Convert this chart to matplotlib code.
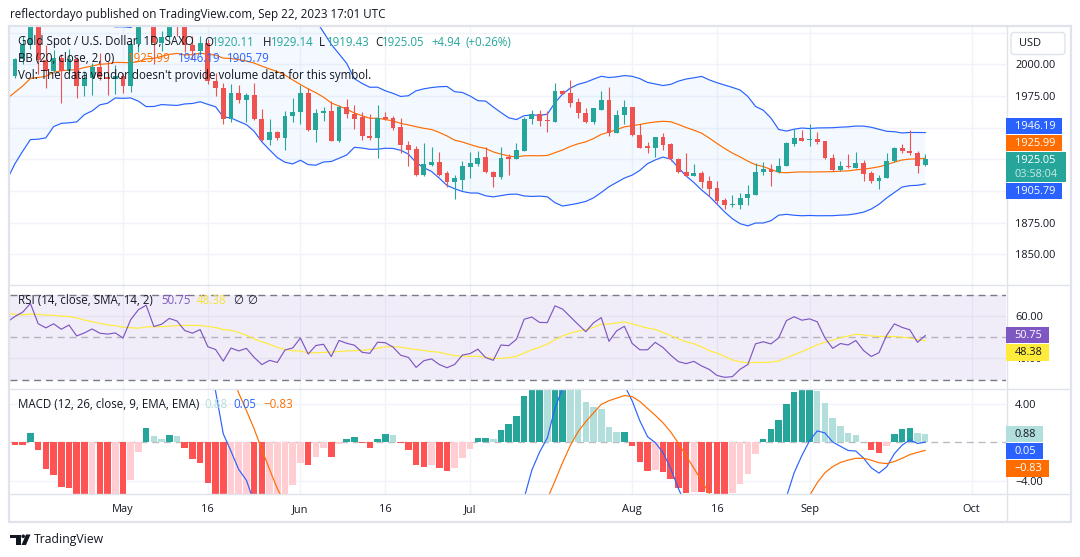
import numpy as np
import pandas as pd
import matplotlib
matplotlib.use('Agg')
import matplotlib.pyplot as plt
from matplotlib.patches import Rectangle, FancyBboxPatch, Polygon, Circle

plt.rcParams['font.family'] = ['Open Sans', 'DejaVu Sans']
plt.rcParams['lines.scale_dashes'] = False

# ---------------- data (XAUUSD daily, SAXO) ----------------
first_date = '2023-04-11'
opens = [1990.7, 2003.8, 2014.9, 2040.0, 2003.5, 1995.0, 2005.0, 1994.5, 2004.0, 1983.0,
         1989.5, 1997.5, 1990.0, 1988.5, 1990.5, 1982.5, 2016.0, 2039.0, 2050.5, 2016.5,
         2021.5, 2034.5, 2030.5, 2015.0, 2010.5, 2017.0, 1987.0, 1981.5, 1956.5, 1977.5,
         1971.5, 1975.5, 1957.0, 1940.5, 1946.5, 1942.0, 1959.5, 1962.5, 1977.5, 1948.0,
         1961.5, 1963.5, 1939.5, 1966.0, 1960.5, 1958.5, 1943.5, 1941.5, 1958.3, 1957.5,
         1950.5, 1936.5, 1932.8, 1913.0, 1920.4, 1923.0, 1913.8, 1907.0, 1908.6, 1919.1,
         1920.9, 1926.7, 1915.1, 1910.9, 1926.7, 1925.1, 1931.4, 1957.0, 1960.4, 1955.9,
         1954.3, 1979.3, 1977.5, 1970.1, 1961.7, 1954.3, 1964.3, 1972.2, 1945.9, 1959.6,
         1965.9, 1944.3, 1935.4, 1934.1, 1942.8, 1936.7, 1925.4, 1915.1, 1911.7, 1913.8,
         1907.8, 1902.0, 1892.5, 1888.6, 1888.8, 1894.1, 1897.2, 1914.9, 1917.5, 1914.9,
         1919.6, 1936.7, 1942.0, 1939.9, 1940.7, 1939.1, 1926.2, 1916.2, 1920.1, 1918.3,
         1922.2, 1913.8, 1907.8, 1910.1, 1923.3, 1933.6, 1931.4, 1930.1, 1920.11]
highs = [2005.0, 2022.0, 2048.7, 2048.0, 2015.0, 2011.0, 2008.0, 2012.0, 2006.0, 1995.0,
         2001.0, 2009.0, 2003.0, 1999.5, 1993.5, 2019.5, 2041.0, 2081.0, 2063.0, 2026.5,
         2037.5, 2048.0, 2041.0, 2022.0, 2022.0, 2020.0, 1993.0, 1985.5, 1984.5, 1984.0,
         1977.5, 1985.0, 1964.5, 1957.0, 1947.5, 1963.5, 1973.5, 1983.5, 1981.5, 1964.5,
         1966.5, 1971.0, 1967.5, 1973.0, 1967.5, 1962.0, 1960.5, 1968.0, 1962.0, 1959.0,
         1957.8, 1939.5, 1935.5, 1937.5, 1934.5, 1930.5, 1915.5, 1913.0, 1923.5, 1930.5,
         1931.5, 1934.5, 1915.5, 1934.5, 1928.8, 1938.0, 1958.5, 1963.8, 1963.8, 1963.0,
         1985.4, 1980.1, 1987.5, 1973.5, 1965.7, 1965.7, 1978.8, 1982.2, 1964.3, 1972.2,
         1966.2, 1952.5, 1938.6, 1942.8, 1946.0, 1938.0, 1926.2, 1930.1, 1920.9, 1915.7,
         1911.7, 1907.8, 1894.6, 1897.2, 1898.5, 1905.1, 1922.2, 1922.7, 1921.4, 1926.2,
         1938.6, 1948.6, 1947.8, 1953.0, 1946.5, 1939.6, 1928.8, 1923.6, 1929.3, 1930.6,
         1924.1, 1915.7, 1912.5, 1930.1, 1934.6, 1937.2, 1947.8, 1931.4, 1929.14]
lows = [1989.0, 2000.5, 2012.0, 1992.0, 1981.5, 1993.5, 1969.5, 1992.0, 1973.5, 1975.0,
        1976.0, 1988.0, 1975.5, 1976.5, 1977.0, 1978.5, 2010.0, 2037.0, 2000.0, 2010.5,
        2019.5, 2022.5, 2009.5, 2004.5, 2007.5, 1984.5, 1975.0, 1952.5, 1954.5, 1969.5,
        1954.5, 1956.0, 1939.5, 1936.5, 1940.5, 1932.0, 1954.5, 1953.0, 1947.5, 1938.5,
        1955.0, 1939.5, 1938.5, 1957.5, 1949.0, 1940.0, 1940.5, 1926.0, 1956.0, 1948.5,
        1930.0, 1919.5, 1911.5, 1911.5, 1919.5, 1911.5, 1903.3, 1893.8, 1901.0, 1910.5,
        1919.6, 1914.3, 1903.0, 1909.8, 1913.0, 1924.9, 1931.4, 1953.0, 1951.2, 1946.5,
        1954.3, 1976.2, 1966.2, 1957.3, 1953.3, 1953.0, 1964.3, 1943.3, 1945.9, 1952.5,
        1943.3, 1933.6, 1929.6, 1926.7, 1932.2, 1923.6, 1914.3, 1911.7, 1911.7, 1902.5,
        1896.0, 1889.5, 1885.4, 1887.5, 1885.4, 1889.3, 1897.2, 1912.3, 1904.3, 1914.3,
        1919.6, 1935.4, 1939.3, 1935.4, 1936.7, 1925.5, 1915.7, 1915.7, 1918.3, 1918.3,
        1907.8, 1906.5, 1901.7, 1910.1, 1922.7, 1930.1, 1928.3, 1913.8, 1919.43]
closes = [2003.8, 2014.9, 2040.0, 2003.5, 1995.0, 2005.0, 1994.5, 2004.0, 1983.0, 1989.5,
          1997.5, 1990.0, 1988.5, 1990.5, 1982.5, 2016.0, 2039.0, 2050.5, 2016.5, 2021.5,
          2034.5, 2030.5, 2015.0, 2010.5, 2017.0, 1987.0, 1981.5, 1956.5, 1977.5, 1971.5,
          1975.5, 1957.0, 1940.5, 1946.5, 1942.0, 1959.5, 1962.5, 1977.5, 1948.0, 1961.5,
          1963.5, 1939.5, 1966.0, 1960.5, 1957.0, 1943.5, 1941.5, 1957.8, 1957.0, 1950.0,
          1936.0, 1932.2, 1913.0, 1920.9, 1923.0, 1913.0, 1907.0, 1910.4, 1920.1, 1921.7,
          1926.2, 1914.9, 1910.9, 1926.2, 1925.4, 1932.0, 1957.2, 1960.4, 1955.1, 1954.9,
          1979.3, 1976.2, 1969.1, 1961.7, 1954.3, 1965.4, 1972.2, 1945.9, 1959.6, 1965.9,
          1943.8, 1934.1, 1934.1, 1942.8, 1935.9, 1924.9, 1914.9, 1911.7, 1913.8, 1907.0,
          1901.7, 1892.0, 1888.8, 1889.3, 1894.6, 1898.0, 1915.1, 1917.0, 1914.9, 1920.1,
          1937.5, 1942.0, 1939.3, 1940.7, 1938.6, 1925.9, 1916.2, 1920.1, 1918.8, 1922.2,
          1913.5, 1907.8, 1910.4, 1923.6, 1934.1, 1931.4, 1929.6, 1919.6, 1925.05]
# closes before the visible window (Feb 1 - Apr 10), used to warm up the indicators
warmup_closes = [1950, 1912, 1865, 1867, 1873, 1875, 1861, 1865, 1854, 1854,
                 1836, 1836, 1842, 1841, 1835, 1825, 1822, 1811, 1817, 1827,
                 1836, 1836, 1855, 1847, 1813, 1814, 1831, 1868, 1913, 1904,
                 1918, 1919, 1989, 1978, 1940, 1970, 1993, 1977, 1956, 1973,
                 1964, 1980, 1969, 1984, 2020, 2021, 2007, 2008, 1990]

tick_dates = ['2023-05-01', '2023-05-16', '2023-06-01', '2023-06-16', '2023-07-03',
              '2023-08-01', '2023-08-16', '2023-09-01', '2023-10-02']
tick_labels = ['May', '16', 'Jun', '16', 'Jul', 'Aug', '16', 'Sep', 'Oct']
price_grid = [2025, 2000, 1975, 1950, 1925, 1900, 1875, 1850]
price_ticks = [2000, 1975, 1875, 1850]
rsi_ticks = [60, 40]
macd_ticks = [4, -4]

header = 'reflectordayo published on TradingView.com, Sep 22, 2023 17:01 UTC'
symbol_title = 'Gold Spot / U.S. Dollar, 1D, SAXO'
last_ohlc = [1920.11, 1929.14, 1919.43, 1925.05]
last_change = [4.94, 0.26]
bb_values = [1925.99, 1946.19, 1905.79]     # basis, upper, lower
rsi_values = [50.75, 48.38]                 # rsi, rsi-ma
macd_values = [0.88, 0.05, -0.83]           # histogram, macd, signal
countdown = '03:58:04'

# ---------------- colours ----------------
UP, DOWN = '#26a69a', '#ef5350'
TXT = '#131722'
GRID = '#f0f3fa'
BORDER = '#e0e3eb'
BLUE, ORANGE = '#2962ff', '#ff6d00'
PURPLE, YELLOW = '#7e57c2', '#ffeb3b'
LW = 0.85

# ---------------- indicators ----------------
all_close = pd.Series(warmup_closes + closes, dtype=float)
nw = len(warmup_closes)
xs_all = np.arange(-nw, len(closes))

basis = all_close.rolling(20).mean()
dev = all_close.rolling(20).std(ddof=0)
bb_up = basis + 2 * dev
bb_lo = basis - 2 * dev


def rma(s, n):
    v = s.values
    out = np.full(len(v), np.nan)
    out[n] = np.nanmean(v[1:n + 1])
    for k in range(n + 1, len(v)):
        out[k] = (out[k - 1] * (n - 1) + v[k]) / n
    return pd.Series(out)


delta = all_close.diff()
ag = rma(delta.clip(lower=0), 14)
al = rma((-delta).clip(lower=0), 14)
rsi = 100 - 100 / (1 + ag / al)
rsi_ma = rsi.rolling(14).mean()

ema12 = all_close.ewm(span=12, adjust=False).mean()
ema26 = all_close.ewm(span=26, adjust=False).mean()
macd = ema12 - ema26
signal = macd.ewm(span=9, adjust=False).mean()
hist = (macd - signal).values

# ---------------- figure / panes ----------------
W, H = 1080, 557
fig = plt.figure(figsize=(W / 100, H / 100), dpi=100)
fig.patch.set_facecolor('white')
renderer = fig.canvas.get_renderer()


def fit_size(text, target_px, **kw):
    t = fig.text(0, 0, text, fontsize=10, **kw)
    w = t.get_window_extent(renderer).width
    t.remove()
    return 10 * target_px / w


def axes_px(l, t, r, b):
    return fig.add_axes([l / W, 1 - b / H, (r - l) / W, (b - t) / H])


PL, PR = 10, 1006
main = axes_px(PL, 27, PR, 284.5)
rsi_ax = axes_px(PL, 284.5, PR, 388.5)
macd_ax = axes_px(PL, 388.5, PR, 494)

x_left = (PL - 15) / 7.714
x_right = (PR - 15) / 7.714
main.set_ylim(1826.16, 2029.45)
rsi_ax.set_ylim(25.79, 74.96)
macd_ax.set_ylim(-5.40, 5.62)

FS_AX = fit_size('2000.00', 40.7)
FS_X = fit_size('May', 21.6)

ext_dates = pd.bdate_range(first_date, '2023-10-31')
tick_pos = [ext_dates.get_loc(pd.Timestamp(d)) for d in tick_dates]

for ax in (main, rsi_ax, macd_ax):
    ax.set_xlim(x_left, x_right)
    for s in ax.spines.values():
        s.set_visible(False)
    ax.set_facecolor('white')
    for tp in tick_pos:
        ax.axvline(tp, color=GRID, lw=1, zorder=0)
    ax.yaxis.tick_right()
    ax.tick_params(axis='y', length=0, pad=6.5, labelsize=FS_AX, labelcolor=TXT)
    ax.tick_params(axis='x', length=0)

main.set_xticks([])
rsi_ax.set_xticks([])
macd_ax.set_xticks(tick_pos)
macd_ax.set_xticklabels(tick_labels)
macd_ax.tick_params(axis='x', pad=7, labelsize=FS_X, labelcolor=TXT)

# main pane
for g in price_grid:
    main.axhline(g, color=GRID, lw=1, zorder=0)
main.set_yticks(price_ticks)
main.set_yticklabels([f'{v:.2f}' for v in price_ticks])

main.fill_between(xs_all, bb_up, bb_lo, color='#2196f3', alpha=0.05, lw=0, zorder=1)
main.plot(xs_all, bb_up, color=BLUE, lw=LW, zorder=2)
main.plot(xs_all, bb_lo, color=BLUE, lw=LW, zorder=2)
main.plot(xs_all, basis, color=ORANGE, lw=LW, zorder=2)

o = np.array(opens); c = np.array(closes); hi = np.array(highs); lo = np.array(lows)
idx = np.arange(len(c))
cols = np.where(c >= o, UP, DOWN)
main.vlines(idx, lo, hi, colors=cols, lw=0.8, zorder=3)
main.bar(idx, np.maximum(np.abs(c - o), 0.8), bottom=np.minimum(o, c), width=0.62,
         color=cols, lw=0, zorder=4)

# RSI pane
rsi_ax.axhspan(30, 70, color=PURPLE, alpha=0.1, lw=0, zorder=0)
for g in rsi_ticks:
    rsi_ax.axhline(g, color='#e6e1f0', lw=1, zorder=0.5)
rsi_ax.axhline(70, color='#787b86', lw=1, ls=(0, (5, 3.5)), zorder=1)
rsi_ax.axhline(30, color='#787b86', lw=1, ls=(0, (5, 3.5)), zorder=1)
rsi_ax.axhline(50, color='#787b86', alpha=0.5, lw=1, ls=(0, (5, 3.5)), zorder=1)
rsi_ax.plot(xs_all, rsi_ma, color=YELLOW, lw=LW, zorder=2)
rsi_ax.plot(xs_all, rsi, color=PURPLE, lw=LW, zorder=3)
rsi_ax.set_yticks(rsi_ticks)
rsi_ax.set_yticklabels([f'{v:.2f}' for v in rsi_ticks])

# MACD pane
for g in macd_ticks:
    macd_ax.axhline(g, color=GRID, lw=1, zorder=0)
macd_ax.axhline(0, color='#787b86', alpha=0.5, lw=1, ls=(0, (5, 3.5)), zorder=1)
hcols = []
for k in range(nw, len(hist)):
    hv, pv = hist[k], hist[k - 1]
    if hv >= 0:
        hcols.append('#26a69a' if hv > pv else '#b2dfdb')
    else:
        hcols.append('#ffcdd2' if hv > pv else '#ff5252')
macd_ax.bar(idx, hist[nw:], width=0.84, color=hcols, lw=0, zorder=2)
macd_ax.plot(xs_all, macd, color=BLUE, lw=LW, zorder=3)
macd_ax.plot(xs_all, signal, color=ORANGE, lw=LW, zorder=3)
macd_ax.set_yticks(macd_ticks)
macd_ax.set_yticklabels([f'{v:.2f}'.replace('-', '\u2212') for v in macd_ticks])

# ---------------- overlay (pixel coordinates) ----------------
ov = fig.add_axes([0, 0, 1, 1])
ov.set_xlim(0, W)
ov.set_ylim(H, 0)
ov.axis('off')
ov.patch.set_alpha(0)

# frame
ov.add_patch(Rectangle((9, 26), 1062, 496, fill=False, ec=BORDER, lw=1.6))
ov.plot([PR + 0.5, PR + 0.5], [26, 522], color=BORDER, lw=1)
for yy in (284.5, 388.5, 494):
    ov.plot([9, 1071], [yy, yy], color=BORDER, lw=1)

FS_LEG = fit_size('Vol: The data vendor doesn\'t provide volume data for this symbol.', 353.4)
FS_HEAD = fit_size(header, 373)


def put(x, y, s, color, fs=FS_LEG, **kw):
    ov.text(x, y, s, color=color, fontsize=fs, va='center', ha='left', **kw)


put(10, 14.5, header, TXT, fs=FS_HEAD)

put(18.3, 42, symbol_title, TXT)
for lab, val, xl, xv in zip('OHLC', last_ohlc, (204, 263.3, 319.3, 375),
                            (211.5, 270.7, 326.5, 381.7)):
    put(xl, 42, lab, TXT)
    put(xv, 42, f'{val:.2f}', UP)
put(431.7, 42, f'+{last_change[0]:.2f}', UP)
put(465, 42, f'(+{last_change[1]:.2f}%)', UP)

put(18.3, 58.7, 'BB (20, close, 2, 0)', TXT)
for val, xv, cc in zip(bb_values, (128.3, 178.3, 226.7), (ORANGE, BLUE, BLUE)):
    put(xv, 58.7, f'{val:.2f}', cc)
put(18.3, 75.7, 'Vol: The data vendor doesn\'t provide volume data for this symbol.', TXT)

put(17.5, 300, 'RSI (14, close, SMA, 14, 2)', TXT)
put(161, 300, f'{rsi_values[0]:.2f}', PURPLE)
put(196.7, 300, f'{rsi_values[1]:.2f}', '#f5e23a')
put(233, 300, '\u2205', TXT)
put(247, 300, '\u2205', TXT)

put(17.5, 404, 'MACD (12, 26, close, 9, EMA, EMA)', TXT)
put(204, 404, f'{macd_values[0]:.2f}', '#b2dfdb')
put(233, 404, f'{macd_values[1]:.2f}', BLUE)
put(263, 404, f'{macd_values[2]:.2f}'.replace('-', '\u2212'), ORANGE)


def box(x0, y0, x1, y1, fc, text, tc, sub=None):
    ov.add_patch(Rectangle((x0, y0), x1 - x0, y1 - y0, fc=fc, ec='none', zorder=5))
    if sub is None:
        ov.text(x0 + 8.5, (y0 + y1) / 2, text, color=tc, fontsize=FS_AX,
                va='center', ha='left', zorder=6)
    else:
        ov.text(x0 + 8.5, y0 + 8, text, color=tc, fontsize=FS_AX,
                va='center', ha='left', zorder=6)
        ov.text(x0 + 8.5, y0 + 22.5, sub, color=tc, alpha=0.75, fontsize=FS_AX,
                va='center', ha='left', zorder=6)


box(1006, 118.3, 1062, 134.3, BLUE, f'{bb_values[1]:.2f}', 'white')
box(1006, 135.0, 1062, 151.0, ORANGE, f'{bb_values[0]:.2f}', 'white')
box(1006, 152.3, 1066, 182.3, UP, f'{last_ohlc[3]:.2f}', 'white', sub=countdown)
box(1006, 183.3, 1062, 199.3, BLUE, f'{bb_values[2]:.2f}', 'white')

box(1006, 327.3, 1048.7, 343.3, PURPLE, f'{rsi_values[0]:.2f}', 'white')
box(1006, 344.0, 1048.7, 360.7, YELLOW, f'{rsi_values[1]:.2f}', TXT)

box(1006, 426.0, 1042.7, 442.3, '#b2dfdb', f'{macd_values[0]:.2f}', TXT)
box(1006, 443.3, 1042.7, 459.3, BLUE, f'{macd_values[1]:.2f}', 'white')
box(1006, 460.3, 1048.7, 476.7, ORANGE, f'{macd_values[2]:.2f}'.replace('-', '\u2212'), 'white')

# USD button
ov.add_patch(FancyBboxPatch((1011, 32.5), 54, 22, boxstyle='round,pad=0,rounding_size=3',
                            fc='white', ec=BORDER, lw=1, zorder=5))
ov.text(1019, 43.7, 'USD', color=TXT, fontsize=FS_AX, va='center', ha='left', zorder=6)

# TradingView logo
ov.add_patch(Polygon([(10, 534.5), (20.5, 534.5), (20.5, 545), (15.5, 545), (15.5, 538), (10, 538)],
                     closed=True, fc=TXT, ec='none'))
ov.add_patch(Circle((23.2, 536.3), 1.8, fc=TXT, ec='none'))
ov.add_patch(Polygon([(26, 534.5), (30.5, 534.5), (26, 545), (21.5, 545)], closed=True,
                     fc=TXT, ec='none'))
put(33.5, 540, 'TradingView', TXT, fs=fit_size('TradingView', 70))

fig.savefig('out.png', dpi=100, facecolor='white')
